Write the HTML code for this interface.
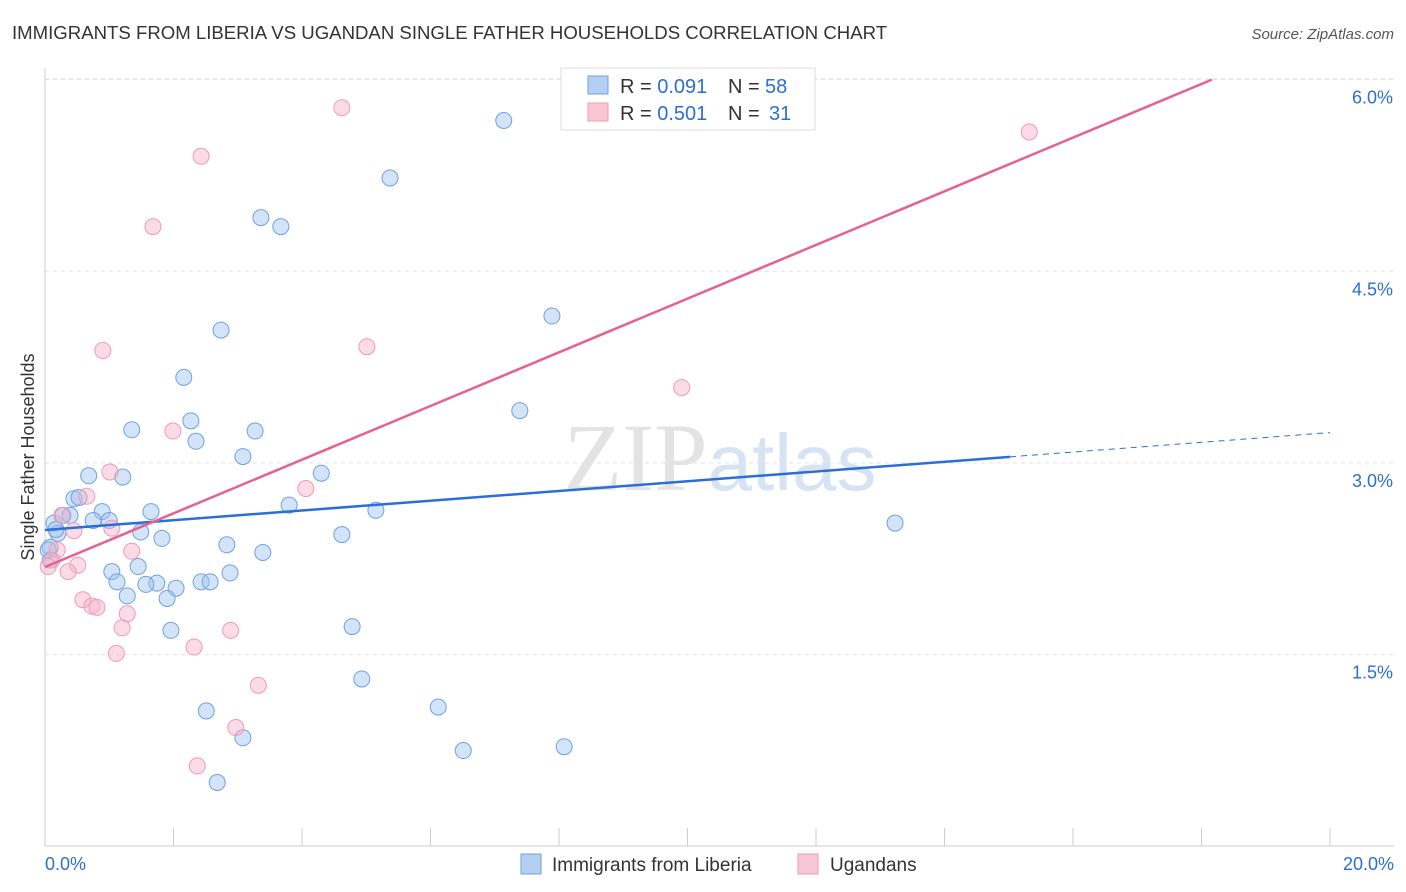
<!DOCTYPE html>
<html><head><meta charset="utf-8"><style>
body{margin:0;background:#fff;font-family:"Liberation Sans",sans-serif;}
svg{display:block}
</style></head><body>
<svg id="chart" width="1406" height="892">
<text x="12" y="39" font-size="18.6" fill="#333">IMMIGRANTS FROM LIBERIA VS UGANDAN SINGLE FATHER HOUSEHOLDS CORRELATION CHART</text>
<text x="1394" y="39" font-size="15" fill="#555" font-style="italic" text-anchor="end">Source: ZipAtlas.com</text>
<text x="720" y="490" font-size="96" fill="#e3e3e3" text-anchor="middle" font-family="Liberation Serif,serif">ZIP<tspan fill="#d5e3f3" font-family="Liberation Sans,sans-serif" font-size="80">atlas</tspan></text>
<g id="grid"></g>
<g id="axes"></g>
<g id="marks"></g>
<text transform="translate(34,457) rotate(-90)" font-size="18" fill="#333" text-anchor="middle">Single Father Households</text>
<g>
<rect x="561" y="68" width="254" height="62" fill="#fff" stroke="#ddd"/>
<rect x="588" y="76" width="20" height="18" fill="#b3cff2" stroke="#6fa0e0"/>
<text x="620" y="93" font-size="20" fill="#333">R = <tspan fill="#2c6fd1">0.091</tspan></text>
<text x="728" y="93" font-size="20" fill="#333">N = <tspan x="765" fill="#2c6fd1">58</tspan></text>
<rect x="588" y="103" width="20" height="18" fill="#f9c6d6" stroke="#f09ab5"/>
<text x="620" y="120" font-size="20" fill="#333">R = <tspan fill="#2c6fd1">0.501</tspan></text>
<text x="728" y="120" font-size="20" fill="#333">N = <tspan x="769" fill="#2c6fd1">31</tspan></text>
</g>
<g>
<rect x="521" y="854" width="20" height="20" fill="#b3cff2" stroke="#6fa0e0"/>
<text x="552" y="871" font-size="19" fill="#333">Immigrants from Liberia</text>
<rect x="798" y="854" width="20" height="20" fill="#f9c6d6" stroke="#f09ab5"/>
<text x="830" y="871" font-size="19" fill="#333">Ugandans</text>
</g>
</svg>
<script>
const blueX=[7.14,5.37,3.36,3.67,7.89,2.74,2.16,7.39,2.27,1.35,2.35,3.27,3.08,0.68,1.21,4.30,0.45,0.53,0.14,0.28,0.89,0.75,1.00,1.65,3.80,5.15,0.20,1.49,1.82,4.62,2.83,3.39,0.08,1.45,1.04,2.88,1.12,1.74,1.57,2.04,2.43,2.57,1.28,1.90,1.96,4.78,4.93,2.51,6.12,3.08,6.51,8.08,2.68,13.23,0.08,0.17,0.39,0.05];
const blueY=[5.68,5.23,4.92,4.85,4.15,4.04,3.67,3.41,3.33,3.26,3.17,3.25,3.05,2.90,2.89,2.92,2.72,2.73,2.53,2.59,2.62,2.55,2.55,2.62,2.67,2.63,2.45,2.46,2.41,2.44,2.36,2.30,2.34,2.19,2.15,2.14,2.07,2.06,2.05,2.02,2.07,2.07,1.96,1.94,1.69,1.72,1.31,1.06,1.09,0.85,0.75,0.78,0.50,2.53,2.24,2.48,2.59,2.32];
const pinkX=[4.62,15.32,2.43,1.68,0.90,5.01,9.91,1.99,1.01,4.06,0.65,0.26,0.45,1.04,1.35,0.19,0.11,0.51,0.36,0.05,0.59,0.73,0.81,1.28,1.20,2.89,2.32,1.11,3.32,2.97,2.37];
const pinkY=[5.78,5.59,5.40,4.85,3.88,3.91,3.59,3.25,2.93,2.80,2.74,2.59,2.47,2.49,2.31,2.32,2.24,2.20,2.15,2.19,1.93,1.88,1.87,1.82,1.71,1.69,1.56,1.51,1.26,0.93,0.63];
const blueLine=[2.476,0.0381];
const blueSolidEnd=15.02;
const pinkLine=[2.186,0.2100];
const yTicks=[1.5,3.0,4.5,6.0];
const xTickLabels=["0.0%","20.0%"];
const xTicks=[0,2,4,6,8,10,12,14,16,18,20];

const X0=45,X1=1330,Y3=463,PPU=127.8;
const sx=v=>X0+(X1-X0)*v/20;
const sy=v=>Y3-(v-3)*PPU;
const NS="http://www.w3.org/2000/svg";
function mk(tag,parent,attrs){const e=document.createElementNS(NS,tag);for(const k in attrs)e.setAttribute(k,attrs[k]);parent.appendChild(e);return e;}
const grid=document.getElementById('grid'),axes=document.getElementById('axes'),marks=document.getElementById('marks');
yTicks.forEach(t=>{
  const l=mk('line',grid,{x1:45,x2:1394,y1:sy(t),y2:sy(t),stroke:'#e2e2e2','stroke-dasharray':'4,4'});
  
  
  const tx=mk('text',axes,{x:1393,y:sy(t)+24,'font-size':18,fill:'#2c6fd1','text-anchor':'end'});
  tx.textContent=t.toFixed(1)+'%';
  
  
});
const topGrid=mk('line',grid,{x1:45,x2:1394,y1:79,y2:79,stroke:'#e2e2e2','stroke-dasharray':'4,4'});


const ya=mk('line',axes,{x1:45,x2:45,y1:68,y2:846,stroke:'#ccc'});


const xa=mk('line',axes,{x1:45,x2:1394,y1:846,y2:846,stroke:'#ccc'});


xTicks.forEach(t=>{
  const l=mk('line',axes,{x1:sx(t),x2:sx(t),y1:828,y2:846,stroke:'#ccc'});
  
  
});
const xl0=mk('text',axes,{x:45,y:870,'font-size':18,fill:'#2c6fd1'});xl0.textContent=xTickLabels[0];


const xl1=mk('text',axes,{x:1394,y:870,'font-size':18,fill:'#2c6fd1','text-anchor':'end'});xl1.textContent=xTickLabels[1];



function pts(xs,ys,fill,stroke,name){xs.forEach((x,i)=>{
  const c=mk('circle',marks,{cx:sx(x),cy:sy(ys[i]),r:8,fill:fill,stroke:stroke,'stroke-width':1});
  
  
});}
pts(blueX,blueY,'rgba(160,195,240,0.45)','#6fa0e0','point-liberia');
pts(pinkX,pinkY,'rgba(246,178,200,0.45)','#f09ab5','point-ugandans');

const b1=mk('line',marks,{x1:sx(0),y1:sy(blueLine[0]),x2:sx(blueSolidEnd),y2:sy(blueLine[0]+blueLine[1]*blueSolidEnd),stroke:'#2a6fd6','stroke-width':2.5});


const b2=mk('line',marks,{x1:sx(blueSolidEnd),y1:sy(blueLine[0]+blueLine[1]*blueSolidEnd),x2:sx(20),y2:sy(blueLine[0]+blueLine[1]*20),stroke:'#2a6fd6','stroke-width':1,'stroke-dasharray':'6,5'});


const pEnd=(6.0-pinkLine[0])/pinkLine[1];
const p1=mk('line',marks,{x1:sx(0),y1:sy(pinkLine[0]),x2:sx(pEnd),y2:sy(6.0),stroke:'#e8608e','stroke-width':2.5});


</script>
</body></html>
